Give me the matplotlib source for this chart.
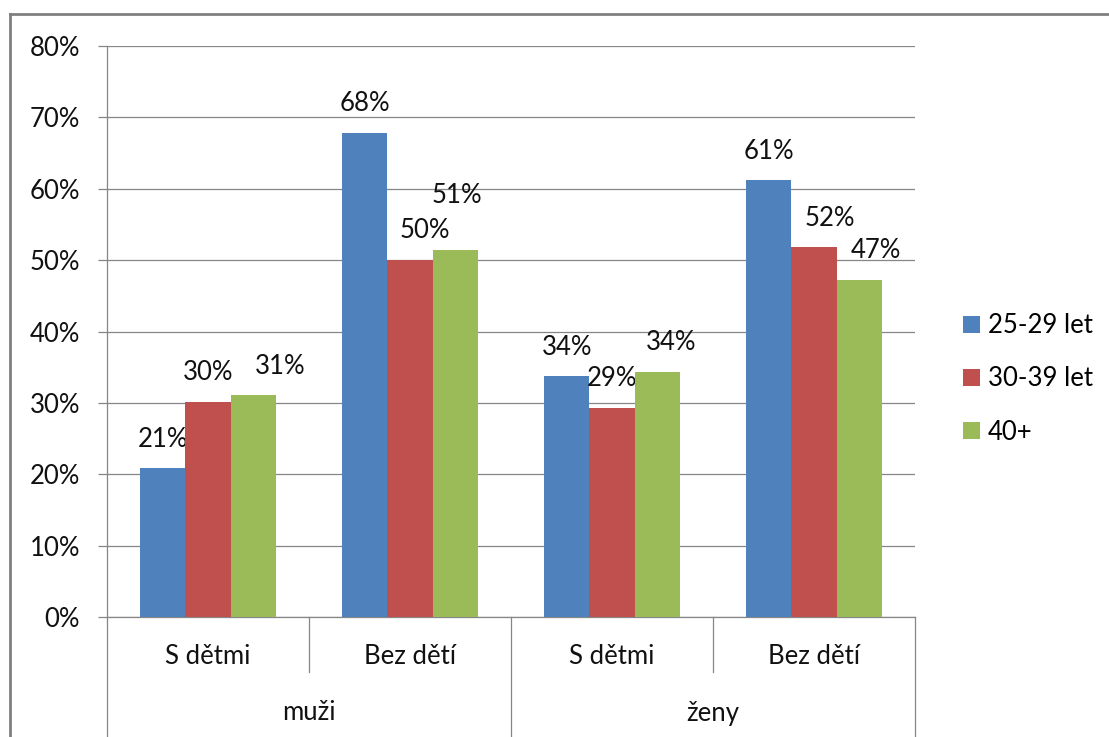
import numpy as np
import matplotlib
matplotlib.use("Agg")
import matplotlib.pyplot as plt
from matplotlib.patches import Patch
from matplotlib.lines import Line2D
from matplotlib.transforms import blended_transform_factory

plt.rcParams['font.family'] = ['Lato', 'DejaVu Sans']

# data
groups = ['muži', 'ženy']
categories = ['S dětmi', 'Bez dětí', 'S dětmi', 'Bez dětí']
series_names = ['25-29 let', '30-39 let', '40+']
v_25_29 = [0.209, 0.678, 0.337, 0.612]
v_30_39 = [0.301, 0.500, 0.293, 0.518]
v_40 = [0.311, 0.514, 0.343, 0.472]

colors = ['#4F81BD', '#C0504D', '#9BBB59']
grid_col = '#868686'
fs = 18.5

# label nudges (px) where excel moved the labels around: (dx, dy above bar top)
nudges = [
    [(0, 28), (0, 30), (0, 29), (0, 29)],
    [(0, 30), (15, 30), (0, 29), (16, 29)],
    [(27, 29), (2, 55), (14, 30), (17, 30)],
]

W, H = 1109, 737
fig = plt.figure(figsize=(W / 100, H / 100), dpi=100)
ax = fig.add_axes([107 / W, 1 - 617 / H, (915 - 107) / W, (617 - 46) / H])

x = np.arange(len(categories))
bw = 0.223
all_vals = [v_25_29, v_30_39, v_40]
px2pt = 72 / 100
for i, vals in enumerate(all_vals):
    bars = ax.bar(x + (i - 1) * bw, vals, width=bw, color=colors[i],
                  label=series_names[i], zorder=3)
    for j, b in enumerate(bars):
        dx, dy = nudges[i][j]
        ax.annotate(f"{vals[j] * 100:.0f}%",
                    (b.get_x() + b.get_width() / 2, b.get_height()),
                    xytext=(dx * px2pt, dy * px2pt), textcoords='offset points',
                    ha='center', va='center', fontsize=fs, color='#111111')

ax.set_xlim(-0.5, len(categories) - 0.5)
ax.set_ylim(0, 0.8)
ax.set_yticks(np.arange(0, 0.81, 0.1))
ax.set_yticklabels([f"{int(round(t * 100))}%" for t in np.arange(0, 0.81, 0.1)])
ax.yaxis.grid(True, color=grid_col, linewidth=0.9, zorder=0)
ax.tick_params(axis='y', length=6.5, width=0.9, color=grid_col, pad=13,
               labelsize=fs, labelcolor='#111111')
ax.tick_params(axis='x', length=0, labelbottom=False)
for s in ['top', 'right']:
    ax.spines[s].set_visible(False)
for s in ['left', 'bottom']:
    ax.spines[s].set_color(grid_col)
    ax.spines[s].set_linewidth(0.9)

# two-level category axis
tr = blended_transform_factory(ax.transData, ax.transAxes)
ah = 617 - 46
y_short = -(672 - 617) / ah
y_long = -(740 - 617) / ah
for k, b in enumerate(np.arange(-0.5, len(categories), 1.0)):
    yb = y_long if k % 2 == 0 else y_short
    ax.add_line(Line2D([b, b], [0, yb], transform=tr, color=grid_col,
                       linewidth=0.9, clip_on=False))
for j, c in enumerate(categories):
    ax.text(x[j], -(657 - 617) / ah, c, transform=tr, ha='center', va='center',
            fontsize=fs, color='#111111')
for g, name in enumerate(groups):
    ax.text(2 * g + 0.5, -(713 - 617) / ah, name, transform=tr, ha='center',
            va='center', fontsize=fs, color='#111111')

# legend
handles = [Patch(facecolor=c, edgecolor='none') for c in colors]
fig.legend(handles, series_names, loc='center left',
           bbox_to_anchor=(963 / W, 1 - 379 / H), frameon=False, fontsize=fs,
           handlelength=0.65, handleheight=0.65, handletextpad=0.33,
           labelspacing=1.1, borderpad=0, borderaxespad=0)

# chart border
fig.add_artist(Line2D([10 / W, 1.0], [1 - 13.5 / H] * 2, color='#808080',
                      linewidth=2, transform=fig.transFigure))
fig.add_artist(Line2D([10 / W, 10 / W], [0, 1 - 13.5 / H], color='#808080',
                      linewidth=2, transform=fig.transFigure))

fig.savefig("out.png", dpi=100)
